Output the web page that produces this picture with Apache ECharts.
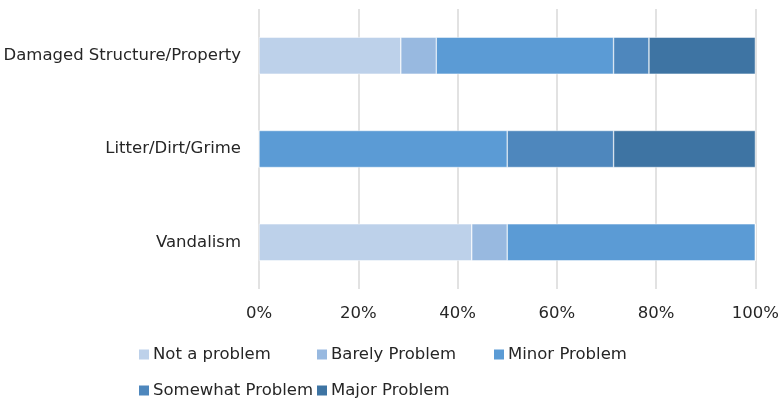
<!DOCTYPE html>
<html lang="en">
<head>
    <meta charset="UTF-8">
    <title>Problem ratings</title>
    <script src="https://cdn.jsdelivr.net/npm/echarts@6/dist/echarts.min.js"></script>
    <style>
        html, body { margin: 0; padding: 0; background: #fff; }
        #chart { width: 782px; height: 400px; }
    </style>
</head>
<body>
    <div id="chart"></div>
</body>
<script>
    // categories, top to bottom
    var categories = ['Damaged Structure/Property', 'Litter/Dirt/Grime', 'Vandalism'];
    var seriesNames = ['Not a problem', 'Barely Problem', 'Minor Problem', 'Somewhat Problem', 'Major Problem'];
    // percent share of each rating, per category
    var notAProblem = [28.57, 0, 42.86];
    var barelyProblem = [7.14, 0, 7.14];
    var minorProblem = [35.71, 50, 50];
    var somewhatProblem = [7.14, 21.43, 0];
    var majorProblem = [21.43, 28.57, 0];
    var colors = ['#BDD1EA', '#98B9E0', '#5B9BD5', '#4E87BD', '#3E74A3'];

    var values = [notAProblem, barelyProblem, minorProblem, somewhatProblem, majorProblem];
    var font = '"DejaVu Sans", Lato, sans-serif';

    var series = [];
    for (var i = 0; i < seriesNames.length; i++) {
        series.push({
            name: seriesNames[i],
            type: 'bar',
            stack: 'total',
            barWidth: 37,
            data: values[i],
            itemStyle: { color: colors[i], borderColor: '#fff', borderWidth: 0.5 }
        });
    }

    // legend laid out like the excel one: two rows of columns
    var legendSpots = [[139, 346], [317, 346], [494, 346], [139, 382], [317, 382]];
    var legends = [];
    for (var j = 0; j < seriesNames.length; j++) {
        legends.push({
            data: [seriesNames[j]],
            left: legendSpots[j][0], top: legendSpots[j][1],
            padding: 0,
            itemWidth: 10, itemHeight: 10,
            icon: 'rect',
            itemStyle: { borderWidth: 0 },
            textStyle: { fontFamily: font, fontSize: 16.5, color: '#262626', padding: [0, 0, 0, -1] }
        });
    }

    var myChart = echarts.init(document.getElementById('chart'));
    var option = {
        animation: false,
        color: colors,
        grid: { left: 259, right: 26, top: 9, bottom: 111 },
        legend: legends,
        xAxis: {
            type: 'value',
            min: 0, max: 100, interval: 20,
            axisLine: { show: false },
            axisTick: { show: false },
            axisLabel: {
                formatter: '{value}%', margin: 16,
                fontFamily: font, fontSize: 16.5, color: '#262626'
            },
            splitLine: { lineStyle: { color: '#D9D9D9', width: 1.5 } }
        },
        yAxis: {
            type: 'category',
            inverse: true,
            data: categories,
            axisLine: { show: false },
            axisTick: { show: false },
            axisLabel: { margin: 18, fontFamily: font, fontSize: 16.5, color: '#262626' }
        },
        series: series
    };
    myChart.setOption(option);
</script>
</html>
